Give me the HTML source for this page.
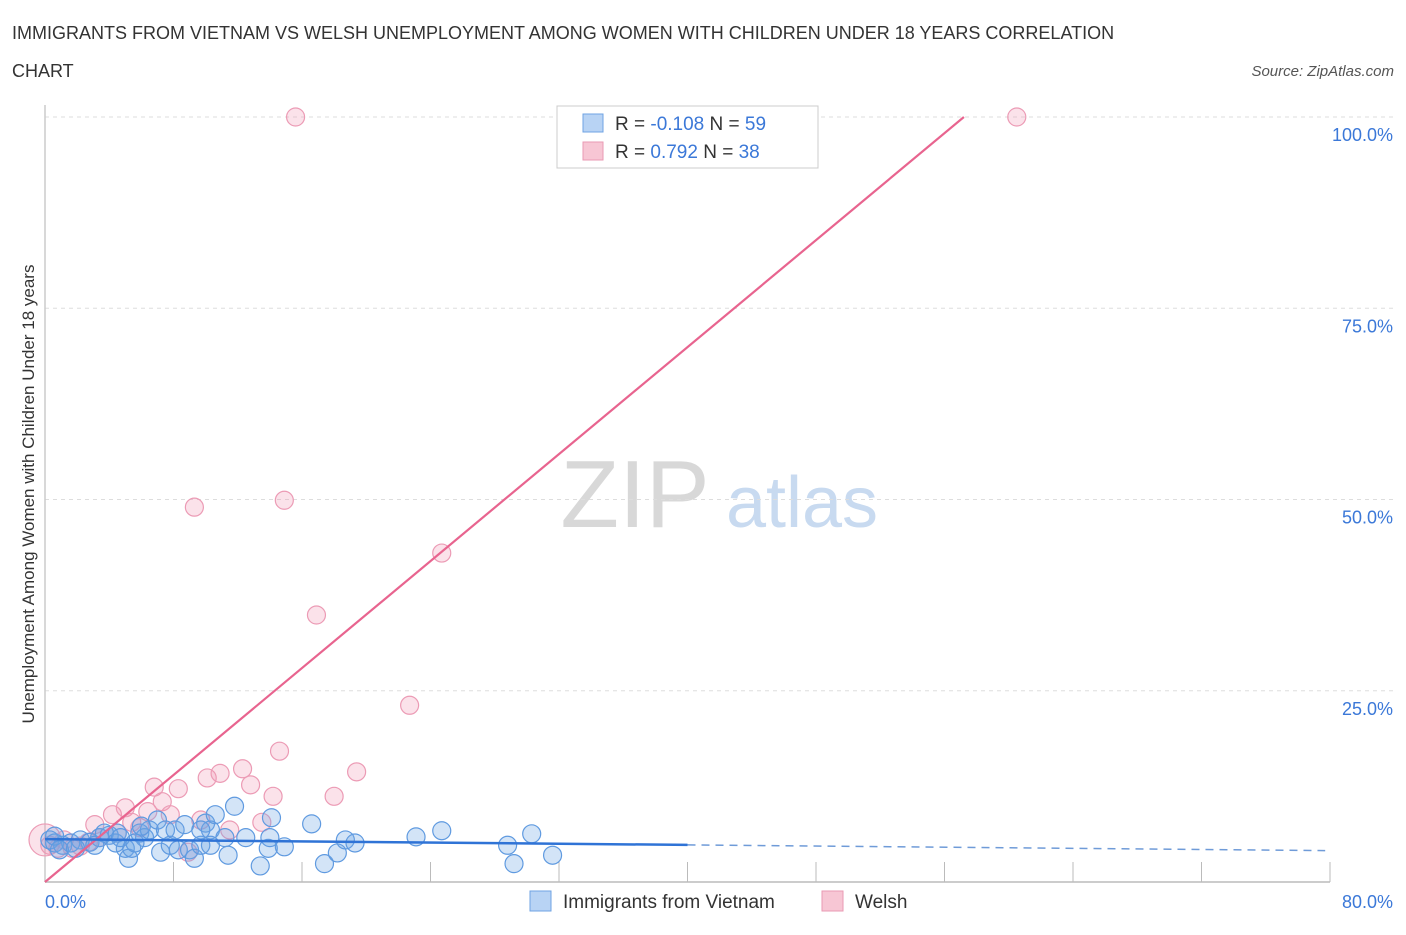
<!DOCTYPE html>
<html><head><meta charset="utf-8"><style>
body{margin:0;background:#fff;font-family:"Liberation Sans",sans-serif;}
svg text{font-family:"Liberation Sans",sans-serif;}
</style></head><body>
<svg id="chart" width="1406" height="930" viewBox="0 0 1406 930" xmlns="http://www.w3.org/2000/svg">
<text x="12" y="39" font-size="18" fill="#333">IMMIGRANTS FROM VIETNAM VS WELSH UNEMPLOYMENT AMONG WOMEN WITH CHILDREN UNDER 18 YEARS CORRELATION</text>
<text x="12" y="77" font-size="18" fill="#333">CHART</text>
<text x="1394" y="76" font-size="15" fill="#555" text-anchor="end" font-style="italic">Source: ZipAtlas.com</text>
<text transform="translate(34,494) rotate(-90)" font-size="17" fill="#333" text-anchor="middle">Unemployment Among Women with Children Under 18 years</text>
<g>
<text x="635" y="527" font-size="96" fill="#d8d8d8" text-anchor="middle" font-family="Liberation Serif, serif">ZIP</text>
<text x="802" y="527" font-size="72" fill="#c8daf0" text-anchor="middle">atlas</text>
</g>
<g id="grid"></g>
<g id="axes"></g>
<g id="points"></g>
<g id="lines"></g>
<g>
<rect x="557" y="106" width="261" height="62" fill="#fff" stroke="#ccc"/>
<rect x="583" y="114" width="20" height="18" fill="#b8d3f4" stroke="#6fa3e3"/>
<text x="615" y="130" font-size="19" fill="#333">R = <tspan fill="#3b78d8">-0.108</tspan>   N = <tspan fill="#3b78d8">59</tspan></text>
<rect x="583" y="142" width="20" height="18" fill="#f7c6d4" stroke="#ea9ab3"/>
<text x="615" y="158" font-size="19" fill="#333">R =   <tspan fill="#3b78d8">0.792</tspan>   N = <tspan fill="#3b78d8">38</tspan></text>
</g>
<g>
<rect x="530" y="891" width="21" height="20" fill="#b8d3f4" stroke="#6fa3e3"/>
<text x="563" y="908" font-size="19" fill="#333">Immigrants from Vietnam</text>
<rect x="822" y="891" width="21" height="20" fill="#f7c6d4" stroke="#ea9ab3"/>
<text x="855" y="908" font-size="19" fill="#333">Welsh</text>
</g>
</svg>
<script>
const blueX=[0.3,0.6,1.1,1.6,2.2,2.8,3.4,4.0,4.5,5.0,5.2,5.4,5.9,6.2,6.5,7.0,7.2,7.5,7.8,8.1,8.3,8.7,9.0,9.3,9.7,10.0,10.3,10.6,11.2,11.4,11.8,12.5,13.4,13.9,14.0,14.1,14.9,16.6,17.4,18.2,18.7,19.3,23.1,24.7,28.8,29.2,30.3,31.6,0.6,0.9,1.9,3.1,3.7,4.4,4.7,6.0,5.6,10.3,9.7];
const blueY=[5.5,5.1,4.8,5.1,5.5,5.2,5.8,6.1,6.4,4.4,3.1,4.4,6.4,5.8,6.8,8.1,3.9,6.8,4.8,6.8,4.2,7.5,4.2,3.1,4.8,7.7,6.8,8.8,5.8,3.5,9.9,5.8,2.1,4.4,5.8,8.4,4.6,7.6,2.4,3.8,5.5,5.1,5.9,6.7,4.8,2.4,6.3,3.5,6.0,4.2,4.4,4.8,6.4,5.1,5.8,7.3,5.1,4.8,6.8];
const pinkX=[0,0.3,0.8,1.2,1.7,2.2,2.7,3.1,3.4,4.2,4.5,5.0,5.4,5.9,6.4,6.8,7.3,7.8,8.3,8.9,9.7,10.1,10.9,11.5,12.3,12.8,13.5,14.2,14.6,14.9,9.3,15.6,16.9,18.0,19.4,22.7,24.7,47.5,60.5];
const pinkY=[5.5,4.8,4.4,5.5,4.4,4.7,5.2,7.5,5.8,8.8,6.4,9.7,7.8,7.1,9.2,12.4,10.5,8.8,12.2,3.9,8.1,13.6,14.2,6.8,14.8,12.7,7.8,11.2,17.1,49.9,49.0,100,34.9,11.2,14.4,23.1,43.0,100,100];
const xTicks=[0,80];
const xTickLabels=["0.0%","80.0%"];
const yTicks=[25,50,75,100];
const yTickLabels=["25.0%","50.0%","75.0%","100.0%"];
const blueFit=[5.6,4.1]; // value at x=0 and x=80
const pinkFit=[0,1.748]; // intercept, slope
const NS="http://www.w3.org/2000/svg";
const X0=45,X1=1330,Y0=882,Y1=117;
function sx(v){return X0+v/80*(X1-X0);}
function sy(v){return Y0-v/100*(Y0-Y1);}
function mk(tag,attrs,parent){const e=document.createElementNS(NS,tag);for(const k in attrs)e.setAttribute(k,attrs[k]);parent.appendChild(e);return e;}
const grid=document.getElementById('grid'),axes=document.getElementById('axes'),pts=document.getElementById('points'),lines=document.getElementById('lines');
yTicks.forEach((t,i)=>{
  const l=mk('line',{x1:X0,x2:1395,y1:sy(t),y2:sy(t),stroke:'#ddd','stroke-dasharray':'4,4'},grid);
  
  
  const tx=mk('text',{x:1393,y:sy(t)+24,'font-size':18,fill:'#3b78d8','text-anchor':'end'},axes);
  tx.textContent=yTickLabels[i];
  
  
});
const ax=mk('line',{x1:X0,x2:X1,y1:Y0,y2:Y0,stroke:'#ccc','stroke-width':2},axes);


const ay=mk('line',{x1:X0,x2:X0,y1:105,y2:Y0,stroke:'#ccc','stroke-width':1.5},axes);


for(let i=1;i<=10;i++){
  const tk=mk('line',{x1:sx(i*8),x2:sx(i*8),y1:862,y2:Y0,stroke:'#bbb'},axes);
  
  
}
xTicks.forEach((t,i)=>{
  const tx=mk('text',{x:sx(t)+(i==0?0:63),y:908,'font-size':18,fill:'#3b78d8','text-anchor':i==0?'start':'end'},axes);
  tx.textContent=xTickLabels[i];
  
  
});
pinkX.forEach((v,i)=>{
  const c=mk('circle',{cx:sx(v),cy:sy(pinkY[i]),r:(i==0?16:9),fill:'rgba(240,150,180,0.28)',stroke:'#ec9bb5','stroke-width':1.2},pts);
  
  
});
blueX.forEach((v,i)=>{
  const c=mk('circle',{cx:sx(v),cy:sy(blueY[i]),r:9,fill:'rgba(110,165,230,0.3)',stroke:'#5f9ae0','stroke-width':1.2},pts);
  
  
});
const xEnd=(100-pinkFit[0])/pinkFit[1];
const pl=mk('line',{x1:sx(0),y1:sy(pinkFit[0]),x2:sx(xEnd),y2:sy(100),stroke:'#e8648f','stroke-width':2.2},lines);


function bY(x){return blueFit[0]+(blueFit[1]-blueFit[0])*x/80;}
const bl=mk('line',{x1:sx(0),y1:sy(bY(0)),x2:sx(40),y2:sy(bY(40)),stroke:'#2f73d6','stroke-width':2.5},lines);


const bd=mk('line',{x1:sx(40),y1:sy(bY(40)),x2:sx(79.7),y2:sy(bY(79.7)),stroke:'#6f9bd8','stroke-width':1.5,'stroke-dasharray':'8,6'},lines);


</script>
</body></html>
